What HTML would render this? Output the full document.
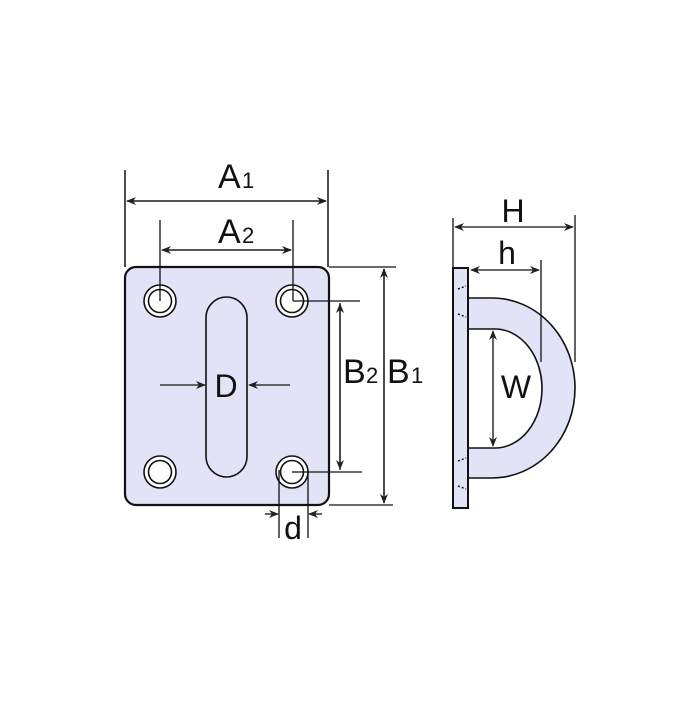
<!DOCTYPE html>
<html><head><style>
html,body{margin:0;padding:0;background:#fff;}
svg text{font-family:"Liberation Sans",sans-serif;fill:#111;}
</style></head><body>
<svg width="700" height="700" viewBox="0 0 700 700" xmlns="http://www.w3.org/2000/svg">
<defs>
<marker id="ar" markerWidth="10" markerHeight="8" refX="9" refY="4" orient="auto" markerUnits="userSpaceOnUse">
<path d="M0,0 L10,4 L0,8 L3,4 Z" fill="#222"/>
</marker>
</defs>
<g stroke="#111" fill="none">
<rect x="125" y="267" width="204" height="238" rx="11" fill="#e3e3f7" stroke-width="2.2"/>
<g fill="#fff" stroke-width="1.6">
<circle cx="160" cy="301" r="16"/><circle cx="160" cy="301" r="11.5"/>
<circle cx="292" cy="301" r="16"/><circle cx="292" cy="301" r="11.5"/>
<circle cx="160" cy="472" r="16"/><circle cx="160" cy="472" r="11.5"/>
<circle cx="292" cy="472" r="16"/><circle cx="292" cy="472" r="11.5"/>
</g>
<rect x="206" y="297" width="41" height="180" rx="20.5" stroke-width="1.6"/>
<g stroke-width="1.5">
<line x1="125" y1="170" x2="125" y2="267"/>
<line x1="328" y1="170" x2="328" y2="267"/>
</g>
<g stroke-width="1.3">
<line x1="160" y1="220" x2="160" y2="301"/>
<line x1="293" y1="220" x2="293" y2="301"/>
<line x1="293" y1="301" x2="360" y2="301"/>
<line x1="292" y1="472" x2="362" y2="472"/>
<line x1="329" y1="267" x2="396" y2="267"/>
<line x1="329" y1="505" x2="393" y2="505"/>
<line x1="340" y1="303" x2="340" y2="470"/>
<line x1="384" y1="269" x2="384" y2="503"/>
<line x1="279" y1="470" x2="279" y2="538"/>
<line x1="308" y1="470" x2="308" y2="538"/>
</g>
</g>
<g stroke="#111" stroke-width="1.3" fill="none">
<line x1="162" y1="250" x2="291" y2="250" marker-end="url(#ar)"/>
<line x1="291" y1="250" x2="162" y2="250" marker-end="url(#ar)"/>
<line x1="127" y1="201" x2="326" y2="201" marker-end="url(#ar)"/>
<line x1="326" y1="201" x2="127" y2="201" marker-end="url(#ar)"/>
<line x1="340" y1="385" x2="340" y2="304" marker-end="url(#ar)"/>
<line x1="340" y1="385" x2="340" y2="469" marker-end="url(#ar)"/>
<line x1="384" y1="385" x2="384" y2="269" marker-end="url(#ar)"/>
<line x1="384" y1="385" x2="384" y2="503" marker-end="url(#ar)"/>
<line x1="160" y1="385" x2="205" y2="385" marker-end="url(#ar)"/>
<line x1="290" y1="385" x2="249" y2="385" marker-end="url(#ar)"/>
<line x1="265" y1="514" x2="278" y2="514" marker-end="url(#ar)"/>
<line x1="322" y1="514" x2="309" y2="514" marker-end="url(#ar)"/>
</g>
<g stroke="#111">
<path d="M468,298 H492 A83,90 0 0 1 492,478 H468 Z M468,329 H495 A47,59.5 0 0 1 495,448 H468 Z" fill="#e3e3f7" fill-rule="evenodd" stroke-width="1.6"/>
<rect x="453" y="268" width="15" height="240" fill="#e3e3f7" stroke-width="2"/>
<g stroke-width="1.3" fill="none">
<line x1="453" y1="218" x2="453" y2="268"/>
<line x1="575" y1="215" x2="575" y2="362"/>
<line x1="541" y1="260" x2="541" y2="362"/>
<line x1="514" y1="227" x2="455" y2="227" marker-end="url(#ar)"/>
<line x1="514" y1="227" x2="573" y2="227" marker-end="url(#ar)"/>
<line x1="505" y1="270" x2="471" y2="270" marker-end="url(#ar)"/>
<line x1="505" y1="270" x2="539" y2="270" marker-end="url(#ar)"/>
<line x1="493" y1="388" x2="493" y2="331" marker-end="url(#ar)"/>
<line x1="493" y1="388" x2="493" y2="446" marker-end="url(#ar)"/>
</g>
<g stroke-width="1.5" stroke-dasharray="2,2">
<line x1="458" y1="289" x2="466" y2="286"/>
<line x1="458" y1="314" x2="466" y2="317"/>
<line x1="458" y1="461" x2="466" y2="458"/>
<line x1="458" y1="486" x2="466" y2="489"/>
</g>
</g>
<text x="218" y="188" font-size="34">A</text><text x="242" y="188" font-size="22">1</text>
<text x="218" y="243" font-size="34">A</text><text x="242" y="243" font-size="22">2</text>
<text x="343" y="383" font-size="34">B</text><text x="366" y="383" font-size="22">2</text>
<text x="387" y="383" font-size="34">B</text><text x="411" y="383" font-size="22">1</text>
<text x="226" y="397" font-size="32" text-anchor="middle">D</text>
<text x="293" y="539" font-size="32" text-anchor="middle">d</text>
<text x="513" y="222" font-size="32" text-anchor="middle">H</text>
<text x="507" y="264" font-size="32" text-anchor="middle">h</text>
<text x="516" y="398" font-size="32" text-anchor="middle">W</text>
</svg>
</body></html>
